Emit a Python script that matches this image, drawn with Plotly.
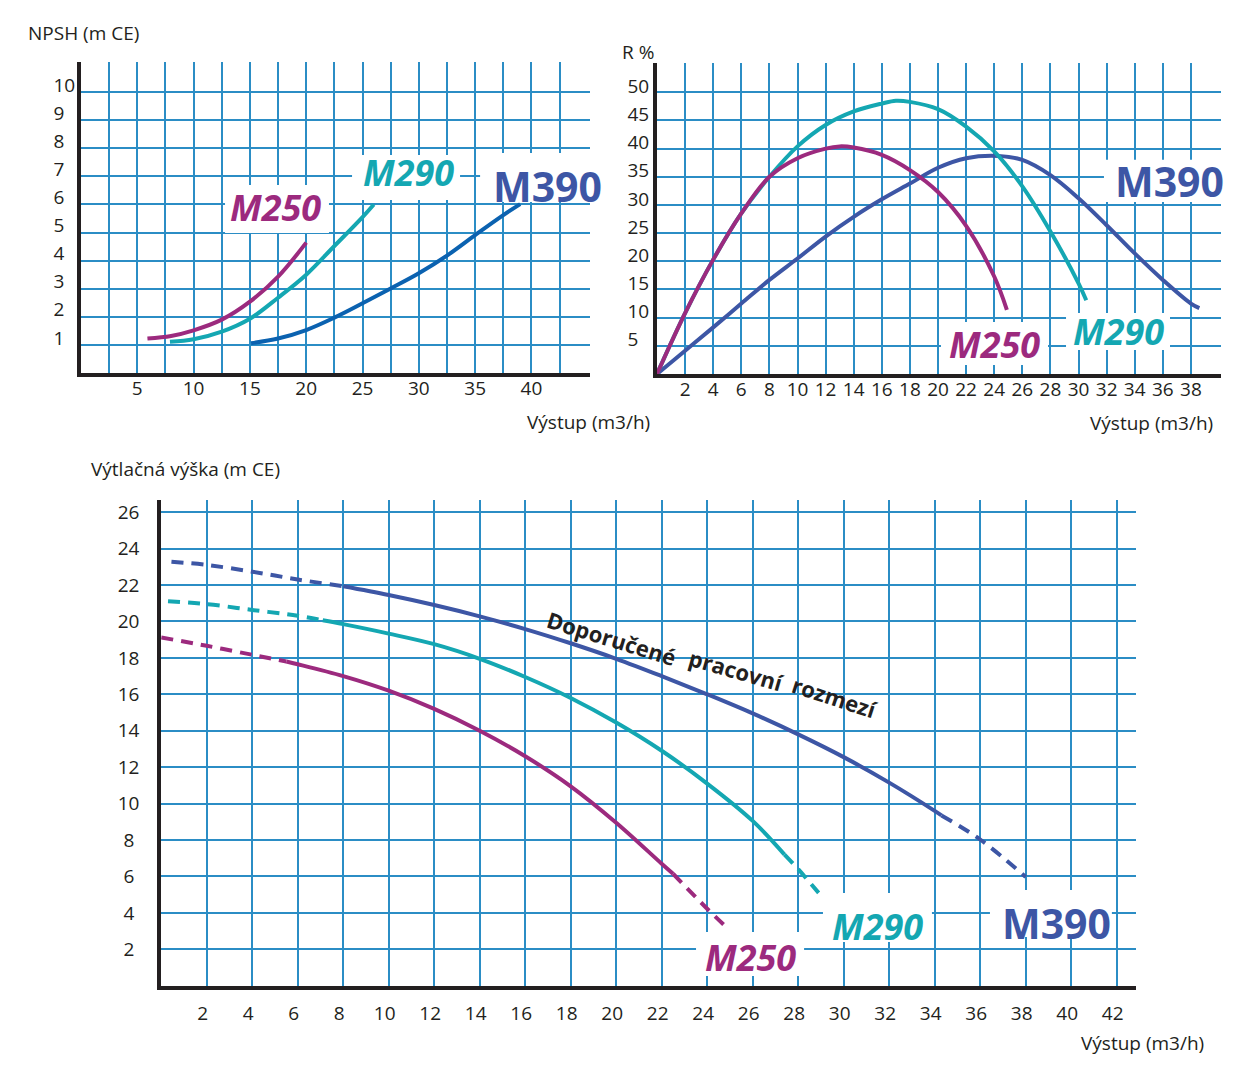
import plotly.graph_objects as go

# ---------------- data ----------------
# NPSH (m CE) vs flow (m3/h)
npsh_q_m250 = [5.9, 8, 10, 12.5, 15, 17.5, 20]
npsh_m250 = [1.23, 1.32, 1.52, 1.9, 2.54, 3.43, 4.64]
npsh_q_m290 = [7.9, 10, 12.5, 15, 17.5, 20, 22.5, 25, 26]
npsh_m290 = [1.11, 1.2, 1.47, 1.93, 2.68, 3.5, 4.52, 5.55, 6.0]
npsh_q_m390 = [15.1, 17.5, 20, 22.5, 25, 27.5, 30, 32.5, 35, 37.5, 39]
npsh_m390 = [1.06, 1.23, 1.53, 1.97, 2.48, 3.01, 3.55, 4.18, 4.91, 5.62, 6.01]

# Efficiency R % vs flow
eff_q_m250 = [0, 2, 4, 6, 8, 10, 12, 13, 14, 16, 18, 20, 22, 24, 24.9]
eff_m250 = [0, 10.8, 20.3, 28.5, 35.0, 38.3, 40.0, 40.4, 40.2, 38.9, 36.2, 32.3, 26.3, 17.3, 11.4]
eff_q_m290 = [0, 2, 4, 6, 8, 10, 12, 14, 16, 17, 18, 20, 22, 24, 26, 28, 30, 30.55]
eff_m290 = [0, 10.8, 20.3, 28.5, 35.0, 40.4, 44.2, 46.6, 48.0, 48.5, 48.3, 47.0, 43.9, 39.5, 33.3, 25.3, 16.1, 13.1]
eff_q_m390 = [0, 2, 4, 6, 8, 10, 12, 14, 16, 18, 20, 22, 24.3, 26, 28, 30, 32, 34, 36, 38, 38.6]
eff_m390 = [0, 4.14, 8.28, 12.5, 16.7, 20.5, 24.4, 27.9, 31.0, 33.8, 36.6, 38.3, 38.7, 38.0, 35.3, 31.2, 26.4, 21.4, 16.7, 12.5, 11.7]

# Head (m CE) vs flow: dashed start / solid recommended range / dashed end
head_q_m250_a = [0, 2, 4, 5.5]
head_m250_a = [19.12, 18.66, 18.17, 17.8]
head_q_m250_b = [5.5, 6, 8, 10, 12, 14, 16, 18, 20, 22, 22.5]
head_m250_b = [17.8, 17.65, 17.0, 16.2, 15.2, 14.0, 12.6, 10.95, 8.95, 6.7, 6.15]
head_q_m250_c = [22.5, 24, 24.9]
head_m250_c = [6.15, 4.23, 3.15]

head_q_m290_a = [0.3, 2, 4, 6, 7.1]
head_m290_a = [21.11, 20.95, 20.63, 20.31, 20.06]
head_q_m290_b = [7.1, 8, 10, 12, 14, 16, 18, 20, 22, 24, 26, 27.4]
head_m290_b = [20.06, 19.85, 19.33, 18.75, 17.95, 16.95, 15.8, 14.45, 12.9, 11.1, 9.05, 7.2]
head_q_m290_c = [27.4, 28, 28.9]
head_m290_c = [7.2, 6.4, 5.1]

head_q_m390_a = [0.45, 2, 4, 6, 8]
head_m390_a = [23.28, 23.1, 22.73, 22.3, 21.93]
head_q_m390_b = [8, 10, 12, 14, 16, 18, 20, 22, 24, 26, 28, 30, 32, 34, 34.3]
head_m390_b = [21.93, 21.45, 20.9, 20.28, 19.58, 18.8, 17.95, 17.0, 16.0, 14.95, 13.8, 12.55, 11.15, 9.6, 9.35]
head_q_m390_c = [34.3, 36, 38]
head_m390_c = [9.35, 8.03, 5.97]

# ticks
npsh_xticks = [2.5 * i for i in range(1, 18)]
npsh_xtext = [("%g" % v) if v % 5 == 0 else "" for v in npsh_xticks]
npsh_yticks = list(range(1, 11))
eff_xticks = list(range(2, 39, 2))
eff_yticks = list(range(5, 51, 5))
head_xticks = list(range(2, 43, 2))
head_yticks = list(range(2, 27, 2))

models = ["M250", "M290", "M390"]

# ---------------- styling ----------------
W, H = 1258, 1087
C250 = "#9c2a7e"
C290 = "#14a7b2"
C390 = "#3d56a5"
C390_NPSH = "#0b62b0"
GRID = "#2b8dc5"
AXIS = "#231f20"
FONT = "Open Sans"
LW = 4


def px(x):
    return x / W


def py(y):
    return 1 - y / H


fig = go.Figure()


def add_line(x, y, color, xa, ya, dash="solid"):
    fig.add_trace(go.Scatter(
        x=x, y=y, mode="lines", xaxis=xa, yaxis=ya,
        line=dict(color=color, width=LW, shape="spline", smoothing=1.0, dash=dash),
        hoverinfo="skip", showlegend=False))


# NPSH chart
add_line(npsh_q_m250, npsh_m250, C250, "x", "y")
add_line(npsh_q_m290, npsh_m290, C290, "x", "y")
add_line(npsh_q_m390, npsh_m390, C390_NPSH, "x", "y")

# Efficiency chart
add_line(eff_q_m390, eff_m390, C390, "x2", "y2")
add_line(eff_q_m290, eff_m290, C290, "x2", "y2")
add_line(eff_q_m250, eff_m250, C250, "x2", "y2")

# Head chart
DASH = "12px,8px"
for qa, ha, qb, hb, qc, hc, col in [
    (head_q_m390_a, head_m390_a, head_q_m390_b, head_m390_b, head_q_m390_c, head_m390_c, C390),
    (head_q_m290_a, head_m290_a, head_q_m290_b, head_m290_b, head_q_m290_c, head_m290_c, C290),
    (head_q_m250_a, head_m250_a, head_q_m250_b, head_m250_b, head_q_m250_c, head_m250_c, C250),
]:
    add_line(qa, ha, col, "x3", "y3", DASH)
    add_line(qb, hb, col, "x3", "y3")
    add_line(qc, hc, col, "x3", "y3", DASH)

tickfont = dict(family=FONT, size=19, color=AXIS)


def axis(domain, rng, tickvals, ticktext, anchor, standoff, shift=0):
    return dict(domain=domain, range=rng, anchor=anchor, tickmode="array",
                tickvals=tickvals, ticktext=ticktext, showgrid=True,
                gridcolor=GRID, gridwidth=1.6, zeroline=False, showline=True,
                linecolor=AXIS, linewidth=4, ticks="", tickfont=tickfont,
                ticklabelstandoff=standoff, ticklabelshift=shift, fixedrange=True)


FS = "\u2007"  # figure space (digit width)
PS = "\u2008"  # punctuation space

fig.update_layout(
    width=W, height=H, autosize=False,
    margin=dict(l=0, r=0, t=0, b=0),
    paper_bgcolor="white", plot_bgcolor="white",
    showlegend=False,
    xaxis=axis([px(81), px(590)], [0, 45.2], npsh_xticks, npsh_xtext, "y", -5),
    yaxis=axis([py(373), py(62)], [0, 11.07], npsh_yticks,
               [str(v) + (FS if v < 10 else "") for v in npsh_yticks], "x", -2, -7),
    xaxis2=axis([px(657), px(1221)], [0, 40.14], eff_xticks,
                [str(v) for v in eff_xticks], "y2", -5),
    yaxis2=axis([py(374), py(63)], [0, 55.2], eff_yticks,
                [str(v) + (FS if v < 10 else "") for v in eff_yticks], "x2", 0, -6),
    xaxis3=axis([px(161.2), px(1136)], [0, 42.85], head_xticks,
                [str(v) for v in head_xticks], "y3", 7, -4),
    yaxis3=axis([py(985.8), py(499.7)], [0, 26.68], head_yticks,
                [str(v) + (PS if v < 10 else "") for v in head_yticks], "x3", 14),
)

# white boxes behind the model labels (above gridlines, below curves)
label_boxes = [
    ("x", "y", 12.79, 22.02, 4.98, 6.69),
    ("x", "y", 24.07, 33.66, 6.16, 7.76),
    ("x", "y", 35.44, 45.2, 6.09, 7.83),
    ("x2", "y2", 31.81, 40.14, 30.55, 38.01),
    ("x2", "y2", 29.11, 36.51, 4.26, 10.83),
    ("x2", "y2", 20.21, 27.83, 1.6, 9.24),
    ("x3", "y3", 23.51, 28.26, 0.54, 2.95),
    ("x3", "y3", 29.09, 33.88, 2.40, 5.10),
    ("x3", "y3", 36.43, 41.79, 2.68, 5.26),
]
shapes = []
for xr, yr, x0, x1, y0, y1 in label_boxes:
    shapes.append(dict(type="rect", xref=xr, yref=yr, x0=x0, x1=x1, y0=y0, y1=y1,
                       fillcolor="white", line=dict(width=0), layer="between"))

ann = []
title_font = dict(family=FONT, size=19, color=AXIS)


def title(text, x, y, xanchor):
    ann.append(dict(text=text, x=px(x), y=py(y), xref="paper", yref="paper",
                    xanchor=xanchor, yanchor="middle", showarrow=False, font=title_font))


title("NPSH (m CE)", 26, 33, "left")
title("Výstup (m3/h)", 652, 422, "right")
title("R %", 620, 52, "left")
title("Výstup (m3/h)", 1215, 423, "right")
title("Výtlačná výška (m CE)", 89, 469, "left")
title("Výstup (m3/h)", 1206, 1043, "right")


def model_label(text, x, y, xr, yr, color, size, italic):
    ann.append(dict(text=text, x=x, y=y, xref=xr, yref=yr, showarrow=False,
                    xanchor="center", yanchor="middle",
                    font=dict(family=FONT, size=size, color=color, weight="bold",
                              style="italic" if italic else "normal")))


# NPSH labels
model_label(models[0], 17.27, 5.89, "x", "y", C250, 36, True)
model_label(models[1], 29.09, 7.15, "x", "y", C290, 36, True)
model_label(models[2], 41.43, 6.65, "x", "y", C390, 41, False)
# efficiency labels
model_label(models[2], 36.48, 34.19, "x2", "y2", C390, 41, False)
model_label(models[1], 32.85, 7.46, "x2", "y2", C290, 36, True)
model_label(models[0], 24.02, 5.24, "x2", "y2", C250, 36, True)
# head labels
model_label(models[0], 25.90, 1.53, "x3", "y3", C250, 36, True)
model_label(models[1], 31.49, 3.28, "x3", "y3", C290, 36, True)
model_label(models[2], 39.36, 3.47, "x3", "y3", C390, 41, False)

# curved caption along the recommended range
caption_words = ["Doporučené", "pracovní", "rozmezí"]
caption_pos = [(19.80, 19.10, 17), (25.30, 17.35, 16), (29.62, 15.87, 18)]
for w, (cx, cy, ang) in zip(caption_words, caption_pos):
    ann.append(dict(text=w, x=cx, y=cy, xref="x3", yref="y3", showarrow=False,
                    textangle=ang, xanchor="center", yanchor="middle",
                    font=dict(family=FONT, size=22, color=AXIS, weight="bold")))

fig.update_layout(annotations=ann, shapes=shapes)

fig.write_html("out.html", config={"displayModeBar": False},
               post_script="document.body.style.margin='0px';document.body.style.padding='0px';")
